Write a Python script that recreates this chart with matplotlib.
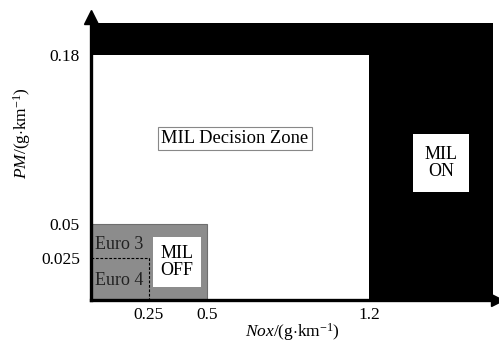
import numpy as np
import matplotlib
matplotlib.use("Agg")
import matplotlib.pyplot as plt
from matplotlib.patches import Rectangle

plt.rcParams['font.family'] = ['Liberation Serif', 'DejaVu Serif']
plt.rcParams['mathtext.fontset'] = 'custom'
plt.rcParams['mathtext.rm'] = 'Liberation Serif'
plt.rcParams['mathtext.it'] = 'Liberation Serif:italic'

# zone limits (g/km)
nox_ticks = [0.25, 0.5, 1.2]
pm_ticks = [0.025, 0.05, 0.18]
nox_max = 1.733      # right edge of MIL ON region
pm_max = 0.2         # top edge of MIL ON region
euro4 = (0.25, 0.025)
euro3 = (0.5, 0.05)
decision = (1.2, 0.18)

# schematic (non-linear) pm axis: value -> drawn height
pm_knots = [0, 0.025, 0.05, 0.18, 0.2, 0.21]
pm_draw = [0, 42, 76, 245, 277, 283]

def fwd(y):
    return np.interp(y, pm_knots, pm_draw)

def inv(y):
    return np.interp(y, pm_draw, pm_knots)

fig = plt.figure(figsize=(4.99, 3.44), dpi=100)
ax = fig.add_axes([91 / 499, 44 / 344, 406 / 499, 283 / 344])
ax.set_yscale('function', functions=(fwd, inv))
ax.set_xlim(0, 406 / 232)
ax.set_ylim(0, 0.21)

# regions
ax.add_patch(Rectangle((0, 0), nox_max, pm_max, facecolor='black', edgecolor='none'))
ax.add_patch(Rectangle((0, 0), decision[0], decision[1], facecolor='white', edgecolor='none'))
ax.add_patch(Rectangle((0, 0), euro3[0], euro3[1], facecolor='#8c8c8c', edgecolor='#6e6e6e', lw=0.8))
ax.plot([0, euro4[0], euro4[0]], [euro4[1], euro4[1], 0], color='black', ls='--', lw=0.8, dashes=(2.5, 1.5))

# labels
ax.text(0.12, 0.0346, 'Euro 3', ha='center', va='center', fontsize=13, color='#222222')
ax.text(0.12, 0.0119, 'Euro 4', ha='center', va='center', fontsize=13, color='#222222')
ax.text(0.371, 0.0226, 'MIL\nOFF', ha='center', va='center', fontsize=13, linespacing=1.0,
        bbox=dict(boxstyle='square,pad=0.42', facecolor='white', edgecolor='none'))
ax.text(0.62, 0.1158, 'MIL Decision Zone', ha='center', va='center', fontsize=13.3,
        bbox=dict(boxstyle='square,pad=0.18', facecolor='white', edgecolor='#888888', lw=0.8))
ax.text(1.509, 0.0969, 'MIL\nON', ha='center', va='center', fontsize=13, linespacing=1.0,
        bbox=dict(boxstyle='square,pad=0.65', facecolor='white', edgecolor='none'))

# axes with arrows
for s in ['top', 'right']:
    ax.spines[s].set_visible(False)
for s in ['left', 'bottom']:
    ax.spines[s].set_linewidth(2.4)
    ax.spines[s].set_zorder(5)
ax.plot([0], [1], marker='^', ms=10, color='black', transform=ax.transAxes, clip_on=False, zorder=6)
ax.plot([1], [0], marker='>', ms=9, color='black', transform=ax.transAxes, clip_on=False, zorder=6)

ax.set_xticks(nox_ticks)
ax.set_xticklabels(['0.25', '0.5', '1.2'])
ax.set_yticks(pm_ticks)
ax.set_yticklabels(['0.025', '0.05', '0.18'])
ax.yaxis.set_minor_locator(matplotlib.ticker.NullLocator())
ax.tick_params(length=0, labelsize=12.5)
ax.tick_params(axis='y', pad=8)
ax.tick_params(axis='x', pad=5)

fig.text(292 / 499, 1 - 332 / 344, r'$\mathit{Nox}$/(g$\cdot$km$^{\mathrm{-1}}$)',
         ha='center', va='center', fontsize=12.5)
fig.text(22 / 499, 1 - 133 / 344, r'$\mathit{PM}$/(g$\cdot$km$^{\mathrm{-1}}$)',
         ha='center', va='center', fontsize=12.5, rotation=90)

fig.savefig('out.png', dpi=100, facecolor='white')
